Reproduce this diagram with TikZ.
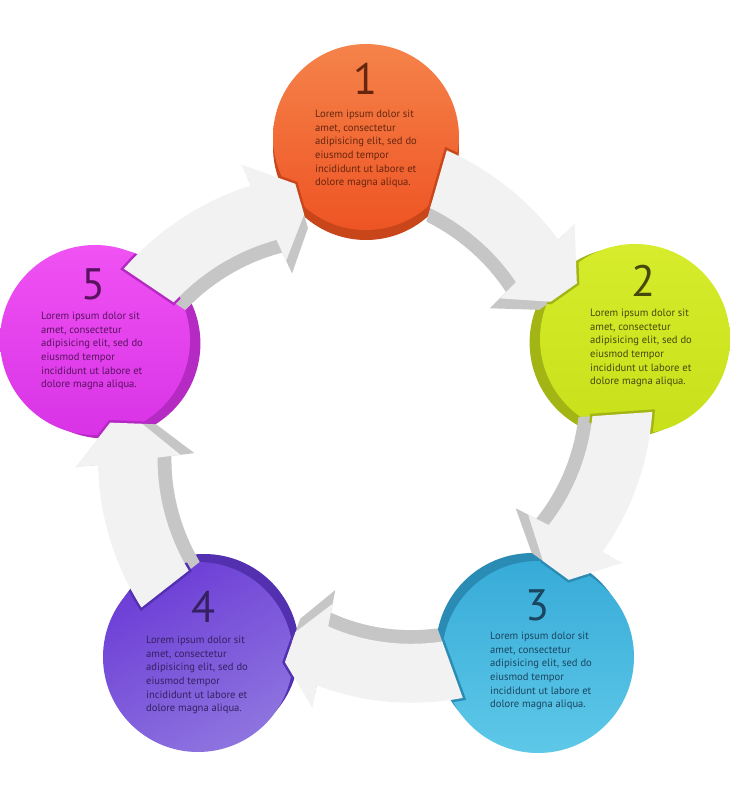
\documentclass[tikz,border=0pt]{standalone}
\usepackage{fontspec}
\setmainfont{PT Sans}
\usetikzlibrary{calc,backgrounds}

\definecolor{orA}{HTML}{F5834A}
\definecolor{orB}{HTML}{EE5424}
\definecolor{orD}{HTML}{C9461A}
\definecolor{orT}{HTML}{66260E}
\definecolor{grA}{HTML}{D6EC2C}
\definecolor{grB}{HTML}{C8E01A}
\definecolor{grD}{HTML}{A2B514}
\definecolor{grT}{HTML}{45490C}
\definecolor{blA}{HTML}{37ABD8}
\definecolor{blB}{HTML}{5EC8E8}
\definecolor{blD}{HTML}{2A8CB4}
\definecolor{blT}{HTML}{1A4560}
\definecolor{puA}{HTML}{6C3DD6}
\definecolor{puB}{HTML}{8E74DF}
\definecolor{puD}{HTML}{5230B0}
\definecolor{puT}{HTML}{352062}
\definecolor{maA}{HTML}{F052F3}
\definecolor{maB}{HTML}{D833E6}
\definecolor{maD}{HTML}{B42AC2}
\definecolor{maT}{HTML}{581260}
\definecolor{arrowwhite}{HTML}{F2F2F2}
\definecolor{arrowgrey}{HTML}{C6C6C6}

\tikzset{
  disc/.style={circle, inner sep=0pt, outer sep=0pt, minimum size=#1},
  blurb/.style={anchor=north west, inner sep=0pt, align=left,
                font=\fontsize{10.6}{13.6}\selectfont},
  digit/.style={inner sep=0pt, font=\fontsize{44}{44}\selectfont},
}

% curved block arrow round the ring centre:
% tail angle, barb angle, tip angle, mid radius at tail, mid radius at barb, radial offset
\newcommand\arrowpath[6]{%
  plot[domain=#1:#2, samples=16] (\x:{#4+(#5-(#4))*(\x-(#1))/(#2-(#1))+30+#6})
  -- ({#2}:{#5+53+#6})
  -- ({#2+0.7*(#3-(#2))}:{#5+#6+16})
  -- ({#2+0.7*(#3-(#2))}:{#5+#6-16})
  -- ({#2}:{#5-53+#6})
  -- plot[domain=#2:#1, samples=16] (\x:{#4+(#5-(#4))*(\x-(#1))/(#2-(#1))-30+#6})
  -- cycle}

\newcommand\lorem{Lorem ipsum dolor sit\\amet, consectetur\\adipisicing elit, sed do\\eiusmod tempor\\incididunt ut labore et\\dolore magna aliqua.}

\begin{document}
\begin{tikzpicture}[x=1pt,y=-1pt]
\useasboundingbox (0,0) rectangle (730,800);
\coordinate (ring) at (366,432);

% discs
\node[disc=186pt, top color=orA, bottom color=orB] (c1) at (366,137) {};
\node[disc=190pt, top color=grA, bottom color=grB] (c2) at (635,339) {};
\node[disc=192pt, top color=blA, bottom color=blB] (c3) at (538,657) {};
\node[disc=190pt, top color=puA, bottom color=puB, shading angle=30] (c4) at (198,657) {};
\node[disc=190pt, top color=maA, bottom color=maB] (c5) at (95,340) {};

\begin{scope}[on background layer]
  \fill[white] (0,0) rectangle (730,800);
  \fill[orD] ($(c1)!10pt!(ring)$) circle[radius=93];
  \fill[grD] ($(c2)!11pt!(ring)$) circle[radius=95];
  \fill[blD] ($(c3)!10pt!(ring)$) circle[radius=96];
  \fill[puD] ($(c4)!10pt!(ring)$) circle[radius=95];
  \fill[maD] ($(c5)!11pt!(ring)$) circle[radius=95];
\end{scope}

% arrows
\foreach \ta/\tb/\tp/\ra/\rb/\src/\dst/\sd/\dd/\rs/\rd in {
    -74/-45/-31/263/242/c1/c2/orD/grD/93/95,
    -4/27/40/257/235/c2/c3/grD/blD/95/96,
    70/101/113/253/228/c3/c4/blD/puD/96/95,
    142/173/186/255/240/c4/c5/puD/maD/95/95,
    214/245/258/262/242/c5/c1/maD/orD/95/93}{
  \fill[arrowgrey, shift={(ring)}] \arrowpath{\ta}{\tb}{\tp}{\ra}{\rb}{-14};
  \begin{scope}
    \clip (\src) circle[radius=\rs];
    \draw[\sd, line width=5pt, shift={(ring)}] \arrowpath{\ta}{\tb}{\tp}{\ra}{\rb}{0};
  \end{scope}
  \begin{scope}
    \clip (\dst) circle[radius=\rd];
    \draw[\dd, line width=5pt, shift={(ring)}] \arrowpath{\ta}{\tb}{\tp}{\ra}{\rb}{0};
  \end{scope}
  \fill[arrowwhite, shift={(ring)}] \arrowpath{\ta}{\tb}{\tp}{\ra}{\rb}{0};
}

% numbers and texts
\node[digit, text=orT] (n1) at (365,79) {1};
\node[digit, text=grT] (n2) at (643,281) {2};
\node[digit, text=blT] (n3) at (537,605) {3};
\node[digit, text=puT] (n4) at (203,607) {4};
\node[digit, text=maT] (n5) at (93,284) {5};

\node[blurb, text=orT] (t1) at (315,110) {\lorem};
\node[blurb, text=grT] (t2) at (590,309) {\lorem};
\node[blurb, text=blT] (t3) at (490,632) {\lorem};
\node[blurb, text=puT] (t4) at (146,636) {\lorem};
\node[blurb, text=maT] (t5) at (41,312) {\lorem};
\end{tikzpicture}
\end{document}
